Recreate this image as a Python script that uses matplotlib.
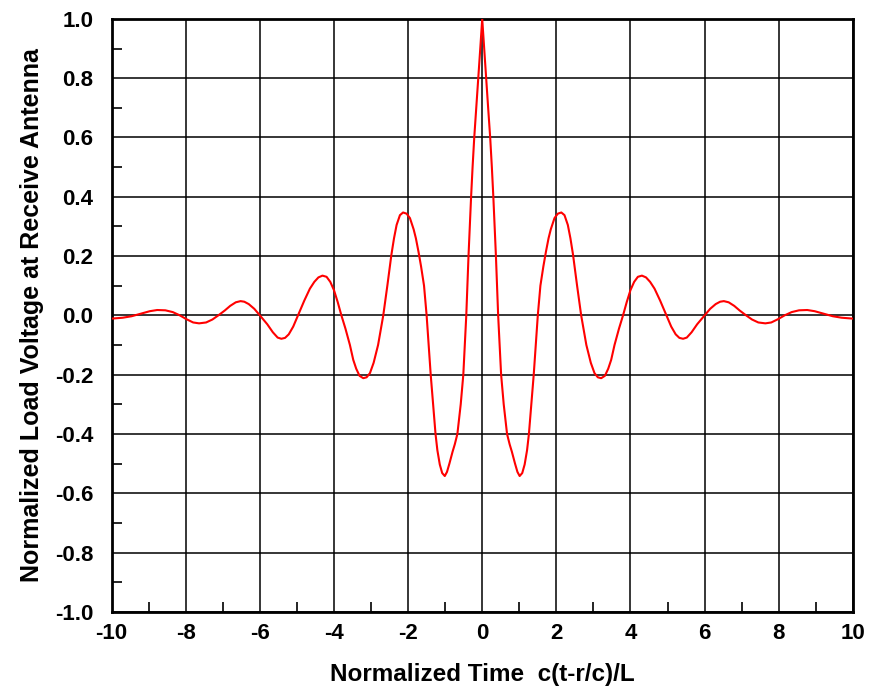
import numpy as np
import matplotlib.pyplot as plt
from matplotlib.ticker import MultipleLocator

# trace, right half (curve is symmetric about t = 0)
t_half = [0.00, 0.05, 0.105, 0.16, 0.215, 0.26, 0.30, 0.335, 0.37, 0.40,
          0.43, 0.47, 0.51, 0.58, 0.67, 0.74, 0.80, 0.885, 0.95, 1.01,
          1.08, 1.145, 1.21, 1.26, 1.325, 1.39, 1.445, 1.50, 1.57, 1.65,
          1.72, 1.79, 1.85, 1.95, 2.04, 2.135, 2.22, 2.31, 2.38, 2.45,
          2.56, 2.67, 2.81, 2.93, 3.03, 3.12, 3.21, 3.31, 3.40, 3.48,
          3.57, 3.69, 3.80, 3.90, 4.00, 4.10, 4.20, 4.31, 4.42, 4.53,
          4.65, 4.80, 4.97, 5.10, 5.22, 5.32, 5.42, 5.52, 5.65, 5.80,
          6.00, 6.15, 6.30, 6.42, 6.52, 6.65, 6.80, 6.95, 7.12, 7.28,
          7.45, 7.64, 7.80, 7.98, 8.16, 8.35, 8.55, 8.77, 8.97, 9.20,
          9.46, 9.70, 10.0]
v_half = [1.000, 0.905, 0.80, 0.70, 0.60, 0.50, 0.40, 0.30, 0.20, 0.10,
          0.00, -0.10, -0.20, -0.30, -0.40, -0.435, -0.46, -0.50, -0.528, -0.542,
          -0.532, -0.503, -0.455, -0.40, -0.30, -0.20, -0.10, 0.00, 0.10, 0.165,
          0.215, 0.26, 0.29, 0.328, 0.343, 0.347, 0.338, 0.305, 0.26, 0.205,
          0.10, 0.00, -0.10, -0.16, -0.195, -0.209, -0.212, -0.204, -0.18, -0.15,
          -0.10, -0.045, 0.00, 0.045, 0.085, 0.113, 0.130, 0.134, 0.128, 0.113,
          0.09, 0.05, 0.00, -0.038, -0.064, -0.076, -0.079, -0.075, -0.057, -0.03,
          0.00, 0.022, 0.038, 0.046, 0.048, 0.044, 0.032, 0.016, 0.00, -0.014,
          -0.024, -0.027, -0.024, -0.013, 0.00, 0.011, 0.017, 0.018, 0.014, 0.006,
          -0.003, -0.008, -0.011]

t = np.concatenate([-np.array(t_half[:0:-1]), t_half])
v = np.concatenate([v_half[:0:-1], v_half])

plt.rcParams['font.family'] = ['Liberation Sans', 'DejaVu Sans']
plt.rcParams['font.weight'] = 'bold'

fig = plt.figure(figsize=(8.72, 7.0), dpi=100)
ax = fig.add_axes([0.128, 0.126, 0.850, 0.847])

ax.plot(t, v, color='red', lw=1.5, zorder=3)

ax.set_xlim(-10, 10)
ax.set_ylim(-1, 1)
ax.xaxis.set_major_locator(MultipleLocator(2))
ax.xaxis.set_minor_locator(MultipleLocator(1))
ax.yaxis.set_major_locator(MultipleLocator(0.2))
ax.yaxis.set_minor_locator(MultipleLocator(0.1))
ax.xaxis.set_major_formatter(plt.FuncFormatter(lambda x, p: f"{x:.0f}"))
ax.yaxis.set_major_formatter(plt.FuncFormatter(lambda y, p: f"{y:.1f}"))

ax.grid(True, which='major', color='black', lw=1.1)
ax.tick_params(which='both', direction='in', labelsize=16, width=1.2)
ax.tick_params(axis='x', which='major', length=0, pad=8)
ax.tick_params(axis='y', which='major', length=0, pad=13)
ax.tick_params(which='minor', length=7)
for s in ax.spines.values():
    s.set_linewidth(2.0)

ax.set_xlabel("Normalized Time  c(t-r/c)/L", fontsize=17.5, fontweight='bold', labelpad=14)
ax.set_ylabel("Normalized Load Voltage at Receive Antenna", fontsize=18, fontweight='bold', labelpad=8)

fig.savefig("out.png", dpi=100)
